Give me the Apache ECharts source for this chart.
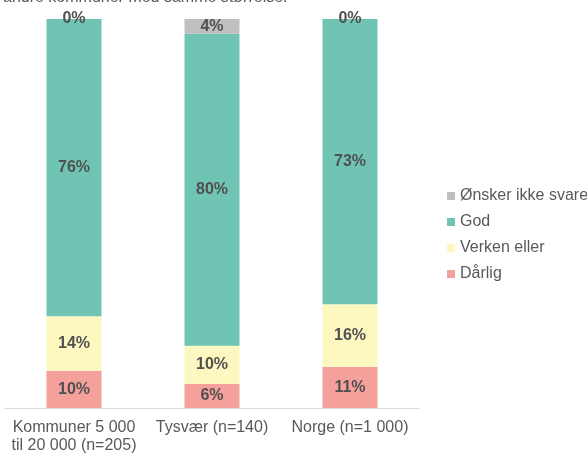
<!DOCTYPE html>
<html>
<head>
<meta charset="utf-8">
<script src="https://cdn.jsdelivr.net/npm/echarts@6/dist/echarts.min.js"></script>
<style>
html,body{margin:0;padding:0;background:#fff;}
#chart{width:587px;height:455px;}
</style>
</head>
<body>
<div id="chart"></div>
<script>
// kategorier og andeler (prosent)
var categories = ['Kommuner 5 000\ntil 20 000 (n=205)', 'Tysvær (n=140)', 'Norge (n=1 000)'];
var darlig = [9.6, 6.2, 10.6];
var verken = [14.0, 9.8, 16.1];
var god = [76.4, 80.2, 73.3];
var onskerIkke = [0, 3.8, 0];

var labelOpt = {
    show: true,
    position: 'inside',
    color: '#505050',
    fontWeight: 'bold',
    fontSize: 16,
    fontFamily: 'Liberation Sans, Arial, sans-serif',
    formatter: function (p) { return Math.round(p.value) + '%'; }
};

function mkSeries(name, data, color) {
    return {
        name: name,
        type: 'bar',
        stack: 'tot',
        barWidth: 55,
        data: data,
        itemStyle: {color: color},
        label: labelOpt,
        emphasis: {disabled: true}
    };
}

var chart = echarts.init(document.getElementById('chart'));
chart.setOption({
    animation: false,
    textStyle: {fontFamily: 'Liberation Sans, Arial, sans-serif'},
    title: {
        text: 'andre kommuner med samme størrelse:',
        left: -2,
        top: -15,
        textStyle: {color: '#595959', fontWeight: 'normal', fontSize: 16}
    },
    grid: {left: 5, right: 168, top: 19, bottom: 47},
    legend: {
        orient: 'vertical',
        left: 442,
        top: 183,
        itemWidth: 8,
        itemHeight: 8,
        itemGap: 10,
        icon: 'rect',
        data: ['Ønsker ikke svare', 'God', 'Verken eller', 'Dårlig'],
        textStyle: {color: '#595959', fontSize: 16}
    },
    xAxis: {
        type: 'category',
        data: categories,
        axisTick: {show: false},
        axisLine: {lineStyle: {color: '#D9D9D9'}},
        axisLabel: {color: '#595959', fontSize: 16, lineHeight: 18, margin: 11, interval: 0, hideOverlap: false}
    },
    yAxis: {
        type: 'value',
        min: 0,
        max: 100,
        show: false
    },
    series: [
        mkSeries('Dårlig', darlig, '#F4A09B'),
        mkSeries('Verken eller', verken, '#FDF8C0'),
        mkSeries('God', god, '#70C4B3'),
        mkSeries('Ønsker ikke svare', onskerIkke, '#BFBFBF')
    ]
});
</script>
</body>
</html>
